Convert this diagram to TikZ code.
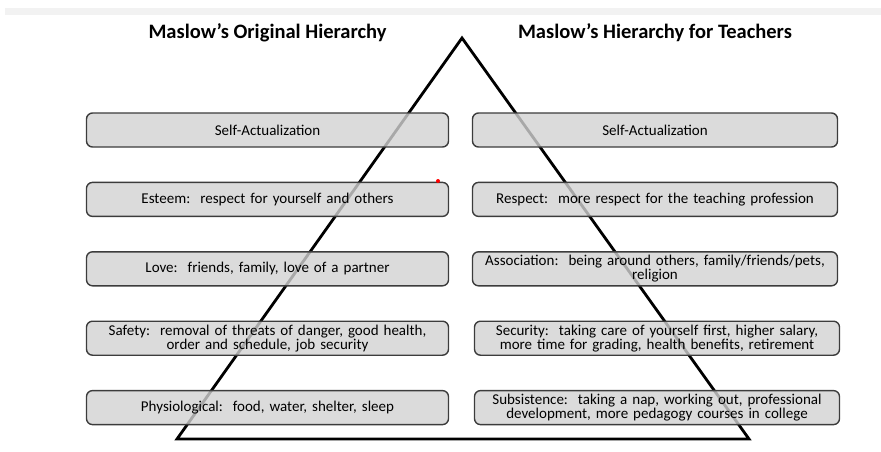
\documentclass[tikz,border=0pt]{standalone}
\usepackage{fontspec}
\setmainfont{Carlito}
\usepackage{xcolor}
\usetikzlibrary{positioning}

\definecolor{boxfill}{HTML}{D2D2D2}
\definecolor{boxline}{HTML}{3C3C3C}
\definecolor{stripgray}{HTML}{F2F2F2}

\begin{document}
\begin{tikzpicture}[
    x=1pt, y=-1pt,
    node distance=34pt,
    level/.style={rectangle, draw=boxline, line width=1.4pt, rounded corners=6pt,
                  fill=boxfill, fill opacity=0.8, text opacity=1,
                  minimum height=34pt, minimum width=362pt,
                  text width=352pt, align=center, inner sep=0pt,
                  font=\fontsize{15}{14.2}\selectfont},
    heading/.style={font=\bfseries\fontsize{20.5}{22}\selectfont, inner sep=0pt},
]
\useasboundingbox (0,0) rectangle (881,451);

% Top strip
\fill[stripgray] (5,8) rectangle (881,15);

% Pyramid
\coordinate (apex) at (462,38);
\coordinate (baseL) at (177,439);
\coordinate (baseR) at (749,439);
\draw[line width=2.8pt, line join=miter] (apex) -- (baseR) -- (baseL) -- cycle;

% Headings
\node[heading] (lefthead) at (267.5,33) {Maslow’s Original Hierarchy};
\node[heading] (righthead) at (655,33) {Maslow’s Hierarchy for Teachers};

% Left column: original hierarchy
\node[level] (selfL) at (267.5,130) {Self-Actualization};
\node[level, below=of selfL] (esteem) {Esteem:\ \ respect for yourself and others};
\node[level, below=of esteem] (love) {Love:\ \ friends, family, love of a partner};
\node[level, below=of love] (safety) {Safety:\ \ removal of threats of danger, good health,\\order and schedule, job security};
\node[level, below=of safety] (physio) {Physiological:\ \ food, water, shelter, sleep};

% Right column: hierarchy for teachers
\node[level, minimum width=365pt] (selfR) at (655,130) {Self-Actualization};
\node[level, minimum width=365pt, below=of selfR] (respect) {Respect:\ \ more respect for the teaching profession};
\node[level, minimum width=365pt, below=of respect] (assoc) {Association:\ \ being around others, family/friends/pets,\\religion};
\node[level, minimum width=365pt, below=of assoc, xshift=2pt] (security) {Security:\ \ taking care of yourself first, higher salary,\\more time for grading, health benefits, retirement};
\node[level, minimum width=365pt, below=of security] (subsist) {Subsistence:\ \ taking a nap, working out, professional\\development, more pedagogy courses in college};

% Stray mark
\fill[red] (438,181) circle (2pt);

\end{tikzpicture}
\end{document}
